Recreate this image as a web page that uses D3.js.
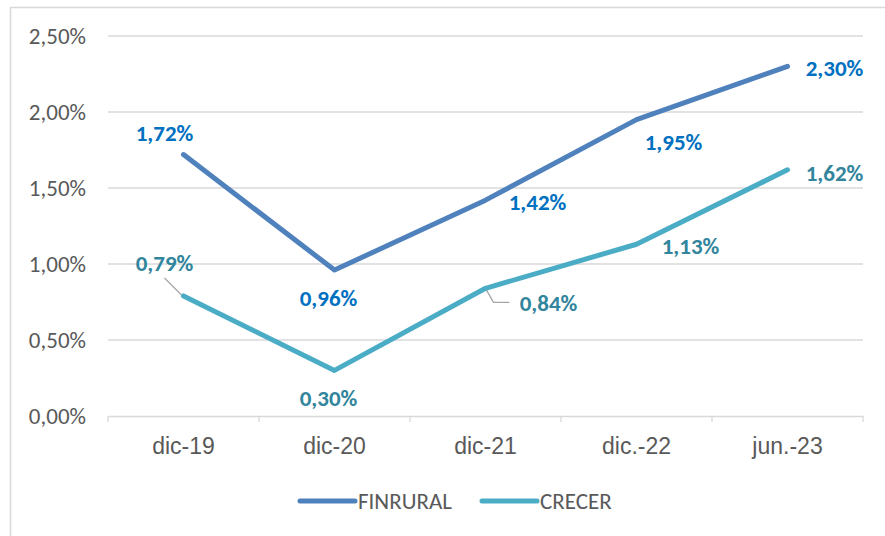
<!DOCTYPE html>
<html><head><meta charset="utf-8">
<script src="https://cdn.jsdelivr.net/npm/d3@7"></script>
<style>body{margin:0;background:#fff}svg{display:block;font-family:Calibri,Carlito,"Open Sans","Liberation Sans",sans-serif}</style>
</head><body>
<script>
const categories = ["dic-19","dic-20","dic-21","dic.-22","jun.-23"];
const finrural = [1.72, 0.96, 1.42, 1.95, 2.30];
const crecer = [0.79, 0.30, 0.84, 1.13, 1.62];
const yTicks = [0, 0.5, 1, 1.5, 2, 2.5];
const seriesNames = ["FINRURAL","CRECER"];
// label offsets (dx, dy) relative to the point
const finLabelOff = [[-19,-22],[-6,28],[52,2],[37,22],[47,2]];
const creLabelOff = [[-19,-33],[-6,28],[63,15],[54,2],[47,3]];

const W=885,H=536, FS=23;
const svg=d3.select("body").append("svg").attr("width",W).attr("height",H);
svg.append("rect").attr("x",10.5).attr("y",7.5).attr("width",W).attr("height",H).attr("fill","#fff").attr("stroke","#d9d9d9").attr("stroke-width",1.5);

const x=d3.scaleBand().domain(categories).range([108,863]);
const y=d3.scaleLinear().domain([0,2.5]).range([416,36]);
const fmt=v=>d3.format(".2f")(v).replace(".",",")+"%";

// grid
svg.append("g").selectAll("line").data(yTicks.filter(d=>d>0)).join("line")
  .attr("x1",108).attr("x2",863).attr("y1",d=>y(d)).attr("y2",d=>y(d))
  .attr("stroke","#d9d9d9").attr("stroke-width",1.3);
// y labels
svg.append("g").selectAll("text").data(yTicks).join("text")
  .attr("x",86).attr("y",d=>y(d)).attr("dy","0.35em").attr("text-anchor","end")
  .attr("font-size",FS).attr("fill","#595959").text(fmt);
// x axis
const xa=svg.append("g").attr("transform","translate(0,416)")
  .call(d3.axisBottom(x).tickSizeInner(0).tickSizeOuter(0).tickPadding(22));
xa.select(".domain").attr("stroke","#d9d9d9").attr("stroke-width",1.3);
xa.selectAll("text").attr("font-size",FS).attr("fill","#595959").attr("font-family",null);
const edges=categories.map(c=>x(c)).concat([x.range()[1]]);
svg.append("g").selectAll("line").data(edges).join("line")
  .attr("x1",d=>d).attr("x2",d=>d).attr("y1",416).attr("y2",422)
  .attr("stroke","#d9d9d9").attr("stroke-width",1.3);

const cx=c=>x(c)+x.bandwidth()/2;
const line=d3.line().x((d,i)=>cx(categories[i])).y(d=>y(d));

// leader lines for CRECER labels
const p0=[cx(categories[0]),y(crecer[0])];
svg.append("path").attr("d",`M${p0[0]-1},${p0[1]}L${p0[0]-19},${p0[1]-18}`).attr("stroke","#a6a6a6").attr("stroke-width",1.3).attr("fill","none");
const p2=[cx(categories[2]),y(crecer[2])];
svg.append("path").attr("d",`M${p2[0]},${p2[1]}L${p2[0]+8},${p2[1]+14}L${p2[0]+24},${p2[1]+14}`).attr("stroke","#a6a6a6").attr("stroke-width",1.3).attr("fill","none");

svg.append("path").datum(crecer).attr("d",line).attr("fill","none").attr("stroke","#4bacc6").attr("stroke-width",5).attr("stroke-linecap","round").attr("stroke-linejoin","round");
svg.append("path").datum(finrural).attr("d",line).attr("fill","none").attr("stroke","#4f81bd").attr("stroke-width",5).attr("stroke-linecap","round").attr("stroke-linejoin","round");

function labels(data,off,color){
  svg.append("g").selectAll("text").data(data).join("text")
    .attr("x",(d,i)=>cx(categories[i])+off[i][0]).attr("y",(d,i)=>y(d)+off[i][1])
    .attr("dy","0.35em").attr("text-anchor","middle").attr("font-size",FS).attr("font-weight","bold")
    .attr("fill",color).text(fmt);
}
labels(finrural,finLabelOff,"#0070c0");
labels(crecer,creLabelOff,"#31859c");

// legend
const leg=[{n:seriesNames[0],c:"#4f81bd",x:300},{n:seriesNames[1],c:"#4bacc6",x:482}];
const lg=svg.append("g").selectAll("g").data(leg).join("g");
lg.append("line").attr("x1",d=>d.x).attr("x2",d=>d.x+55).attr("y1",501).attr("y2",501)
  .attr("stroke",d=>d.c).attr("stroke-width",5).attr("stroke-linecap","round");
lg.append("text").attr("x",d=>d.x+58).attr("y",501).attr("dy","0.35em").attr("font-size",FS).attr("fill","#595959").text(d=>d.n);
</script>
</body></html>
